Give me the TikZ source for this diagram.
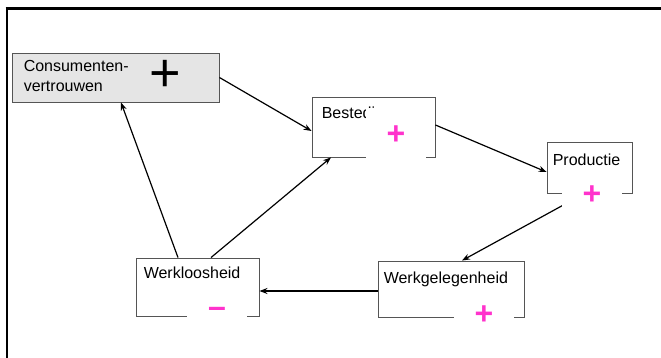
\documentclass[tikz,border=0pt]{standalone}
\usepackage{fontspec}
\setmainfont{Liberation Sans}
\usetikzlibrary{arrows.meta}
\definecolor{roze}{RGB}{255,51,204}
\definecolor{rand}{RGB}{85,85,85}
\definecolor{grijs}{RGB}{229,229,229}
\tikzset{
  blok/.style={draw=rand, line width=0.9pt, inner sep=0pt},
  tekst/.style={anchor=north west, inner sep=0pt, align=left, font=\fontsize{16}{20}\selectfont},
  pijl/.style={line width=1.2pt, -{Stealth[length=8pt,width=6pt]}},
  teken/.style={fill=white, text=roze, inner sep=0pt, minimum width=60pt, minimum height=40pt, font=\bfseries\fontsize{32}{32}\selectfont}
}
\begin{document}
\begin{tikzpicture}[x=1pt, y=-1pt]
\useasboundingbox (0,0) rectangle (661,358);

% Frame
\draw[line width=3pt] (5.5,9) -- (661,9);
\draw[line width=1.8pt] (7,9) -- (7,358);

% Boxes
\node[blok, fill=grijs, minimum width=207pt, minimum height=49pt] (consument) at (115.5,77.5) {};
\node[blok, minimum width=123pt, minimum height=60pt] (besteding) at (373.5,127) {};
\node[blok, minimum width=85pt, minimum height=51pt] (productie) at (589.5,167.5) {};
\node[blok, minimum width=123pt, minimum height=58pt] (werkloos) at (197.5,287) {};
\node[blok, minimum width=146pt, minimum height=56pt] (werkgelegen) at (451,289) {};

% Labels in the boxes
\node[tekst] (consumenttxt) at ([shift={(12pt,-8pt)}]consument.north west) {Consumenten-\\vertrouwen};
\node[tekst] (bestedingtxt) at ([shift={(10pt,-10pt)}]besteding.north west) {Besteding};
\node[tekst] (productietxt) at ([shift={(6pt,-12pt)}]productie.north west) {Productie};
\node[tekst] (werkloostxt) at ([shift={(8pt,-9pt)}]werkloos.north west) {Werkloosheid};
\node[tekst] (werkgelegentxt) at ([shift={(6pt,-11pt)}]werkgelegen.north west) {Werkgelegenheid};

% Arrows
\draw[pijl] (consument.east) -- ([yshift=-4pt]besteding.west);
\draw[pijl] ([yshift=2pt]besteding.east) -- ([yshift=-4.5pt]productie.west);
\draw[pijl] ([xshift=-5pt]productie.south) -- ([xshift=11pt]werkgelegen.north);
\draw[pijl] ([yshift=-2pt]werkgelegen.west) -- ([yshift=-2pt]werkgelegen.west -| werkloos.east);
\draw[pijl] ([xshift=-19.5pt]werkloos.north) -- ([xshift=5.5pt]consument.south);
\draw[pijl] ([xshift=13.5pt]werkloos.north) -- ([xshift=-42.5pt]besteding.south);

% Signs
\node[inner sep=0pt, font=\fontsize{54}{54}\selectfont] (plusvertrouwen) at (165,76) {+};
\node[teken, minimum height=54pt] (plusbesteding) at (396,135) {+};
\node[teken] (plusproductie) at (592,195) {+};
\node[teken] (minwerkloos) at (217,312) {--};
\node[teken] (pluswerkgelegen) at (484,315) {+};

\end{tikzpicture}
\end{document}
